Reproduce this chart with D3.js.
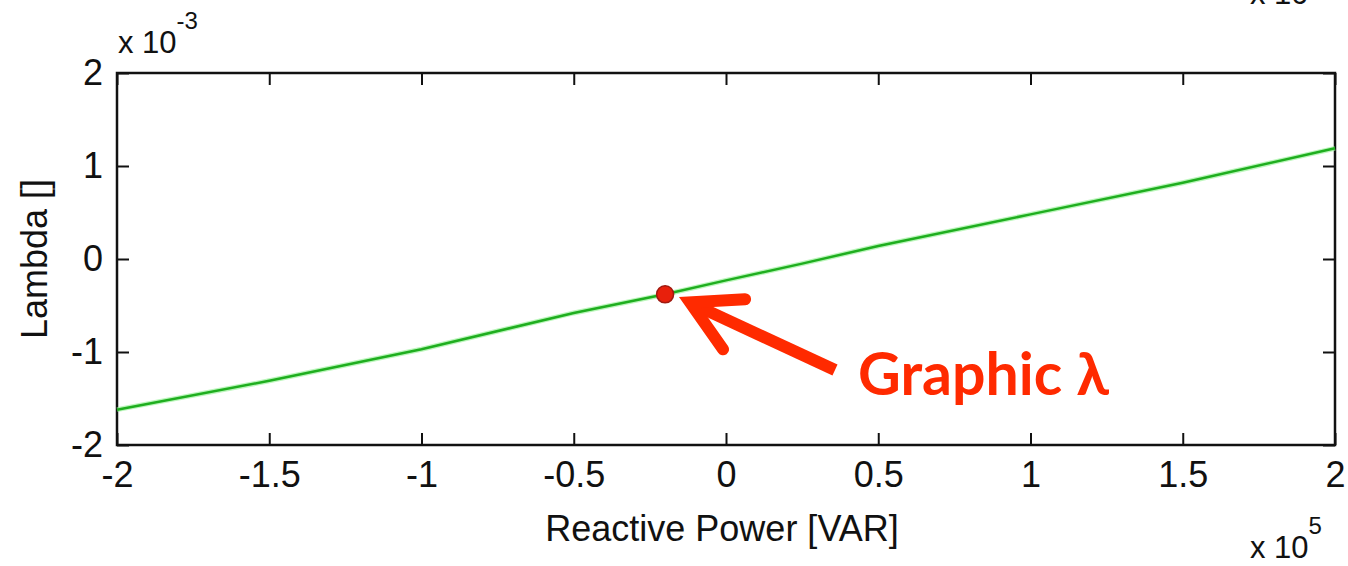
<!DOCTYPE html>
<html>
<head>
<meta charset="utf-8">
<script src="https://cdn.jsdelivr.net/npm/d3@7"></script>
<style>
  body { margin: 0; background: #fff; }
  text { font-family: "Liberation Sans", Arial, sans-serif; }
</style>
</head>
<body>
<div id="plot"></div>
<script>
// data (x in 1e5 VAR, y in 1e-3)
const power = [-2, -1.5, -1, -0.5, -0.2, 0, 0.25, 0.5, 1, 1.5, 2];
const lambda = [-1.62, -1.31, -0.97, -0.58, -0.38, -0.23, -0.05, 0.14, 0.48, 0.82, 1.19];
const xTicks = [-2, -1.5, -1, -0.5, 0, 0.5, 1, 1.5, 2];
const yTicks = [-2, -1, 0, 1, 2];
const marked = [-0.2, -0.38];

const width = 1348, height = 566;
const margin = {top: 73, right: 13, bottom: 121, left: 117};
const w = width - margin.left - margin.right;
const h = height - margin.top - margin.bottom;

let svg = d3.select("#plot").append("svg")
    .attr("width", width)
    .attr("height", height);

let g = svg.append("g")
    .attr("transform", `translate(${margin.left}, ${margin.top})`);

let x = d3.scaleLinear().domain([-2, 2]).range([0, w]);
let y = d3.scaleLinear().domain([-2, 2]).range([h, 0]);

// axes with inward ticks on all four sides
const fmt = d => String(d);
let axes = [
    [d3.axisBottom(x).tickValues(xTicks).tickFormat(fmt).tickSize(-12).tickPadding(16), `translate(0, ${h})`],
    [d3.axisTop(x).tickValues(xTicks).tickFormat("").tickSize(-12), null],
    [d3.axisLeft(y).tickValues(yTicks).tickFormat(fmt).tickSize(-12).tickPadding(14), null],
    [d3.axisRight(y).tickValues(yTicks).tickFormat("").tickSize(-12), `translate(${w}, 0)`]
];
for (const [ax, tr] of axes) {
    let a = g.append("g").call(ax);
    if (tr) a.attr("transform", tr);
    a.select(".domain").remove();
    a.selectAll(".tick line").attr("stroke", "#111").attr("stroke-width", 2);
    a.selectAll(".tick text").style("font-size", "36px").attr("fill", "#111");
}

// frame
g.append("rect")
    .attr("width", w).attr("height", h)
    .attr("fill", "none").attr("stroke", "#111").attr("stroke-width", 2.5);

// line
let line = d3.line().x((d, i) => x(power[i])).y(d => y(d));
g.append("path")
    .datum(lambda)
    .attr("d", line)
    .attr("fill", "none")
    .attr("stroke", "#8ef08e")
    .attr("stroke-width", 5)
    .attr("opacity", 0.6);
g.append("path")
    .datum(lambda)
    .attr("d", line)
    .attr("fill", "none")
    .attr("stroke", "#1fae1f")
    .attr("stroke-width", 2.5);

// marked point
g.append("circle")
    .attr("cx", x(marked[0])).attr("cy", y(marked[1]))
    .attr("r", 8.5)
    .attr("fill", "#e8200c")
    .attr("stroke", "#a01a10").attr("stroke-width", 1.5);

// axis labels
svg.append("text")
    .attr("x", margin.left + x(0) - 4).attr("y", 541)
    .style("text-anchor", "middle")
    .style("font-size", "36px").attr("fill", "#111")
    .text("Reactive Power [VAR]");

svg.append("text")
    .attr("transform", `translate(47, ${margin.top + y(0)}) rotate(-90)`)
    .style("text-anchor", "middle")
    .style("font-size", "36px").attr("fill", "#111")
    .text("Lambda []");

// exponent labels
let expTop = svg.append("text").attr("x", 118).attr("y", 53).style("font-size", "31px").attr("fill", "#111");
expTop.append("tspan").text("x 10");
expTop.append("tspan").attr("dy", -24).style("font-size", "24px").text("-3");

let expBot = svg.append("text").attr("x", 1250).attr("y", 558).style("font-size", "31px").attr("fill", "#111");
expBot.append("tspan").text("x 10");
expBot.append("tspan").attr("dy", -24).style("font-size", "24px").text("5");

// clipped leftover from the figure above
svg.append("text").attr("x", 1250).attr("y", 4).style("font-size", "31px").attr("fill", "#111").text("x 10");

// annotation arrow
const red = "#ff2a00";
let tip = [margin.left + x(marked[0]) + 25, margin.top + y(marked[1]) + 8];
svg.append("line")
    .attr("x1", tip[0] + 10).attr("y1", tip[1] + 5)
    .attr("x2", 835).attr("y2", 370)
    .attr("stroke", red).attr("stroke-width", 12).attr("stroke-linecap", "butt");
svg.append("polyline")
    .attr("points", `${tip[0] + 55},${tip[1] - 3} ${tip[0]},${tip[1]} ${tip[0] + 33},${tip[1] + 47}`)
    .attr("fill", "none")
    .attr("stroke", red).attr("stroke-width", 12)
    .attr("stroke-linecap", "round").attr("stroke-linejoin", "miter");

svg.append("text")
    .attr("x", 858).attr("y", 395)
    .style("font-family", "Lato, 'Open Sans', sans-serif")
    .style("font-weight", "bold")
    .style("font-size", "59px")
    .attr("fill", red)
    .text("Graphic λ");
</script>
</body>
</html>
